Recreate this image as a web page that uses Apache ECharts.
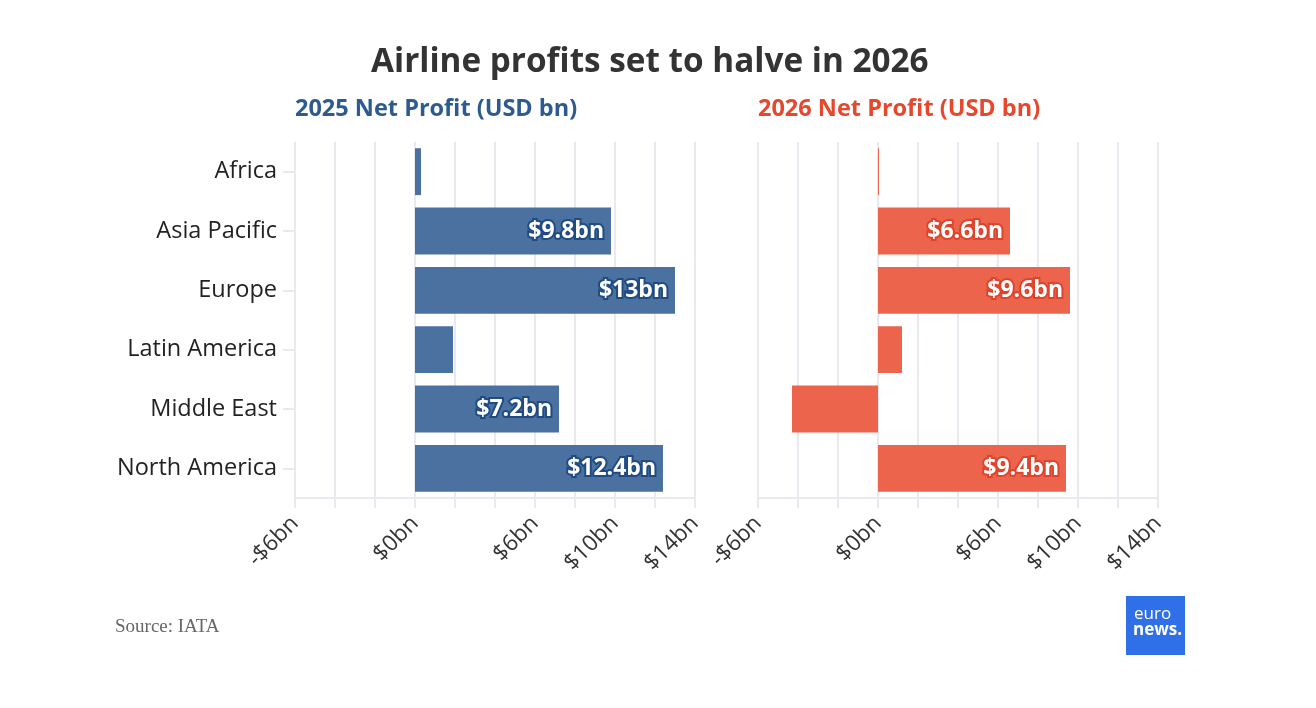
<!DOCTYPE html>
<html>
<head>
<meta charset="utf-8">
<script src="https://cdn.jsdelivr.net/npm/echarts@6/dist/echarts.min.js"></script>
<style>
  html, body { margin: 0; padding: 0; background: #fff; }
  #chart { width: 1316px; height: 708px; }
</style>
</head>
<body>
<div id="chart"></div>
<script>
var regions = ['Africa', 'Asia Pacific', 'Europe', 'Latin America', 'Middle East', 'North America'];
var profit2025 = [0.3, 9.8, 13, 1.9, 7.2, 12.4];
var profit2026 = [0.05, 6.6, 9.6, 1.2, -4.3, 9.4];
var tickLabels = [-6, 0, 6, 10, 14];

var blue = '#4a71a0', red = '#ec644c';
var font = '"Open Sans", "Noto Sans", sans-serif';

function fmtTick(v) {
    return (v < 0 ? '-$' + Math.abs(v) : '$' + v) + 'bn';
}

function xAxisFor(idx) {
    return {
        gridIndex: idx, type: 'value', min: -6, max: 14, interval: 2,
        axisLine: {show: true, lineStyle: {color: '#ebe8ef', width: 2}},
        axisTick: {show: true, length: 10, lineStyle: {color: '#ebe8ef', width: 2}},
        splitLine: {show: true, lineStyle: {color: '#ebe8ef', width: 2}},
        axisLabel: {
            customValues: tickLabels, rotate: 45, margin: 22,
            color: '#333', fontSize: 22.5, fontFamily: font,
            formatter: fmtTick
        }
    };
}

function yAxisFor(idx, showLabels) {
    return {
        gridIndex: idx, type: 'category', data: regions, inverse: true,
        axisLine: {show: false, onZero: false},
        axisTick: {show: showLabels, length: 12, alignWithLabel: true, lineStyle: {color: '#ebe8ef', width: 2}},
        axisLabel: {show: showLabels, color: '#222', fontSize: 23.5, fontFamily: font, margin: 18}
    };
}

function barSeries(idx, values, color, border) {
    return {
        type: 'bar', xAxisIndex: idx, yAxisIndex: idx, data: values,
        barCategoryGap: '21%',
        itemStyle: {color: color},
        label: {
            show: true, position: 'insideRight', distance: 7,
            color: '#fff', fontSize: 23, fontWeight: 'bold', fontFamily: font,
            textBorderColor: border, textBorderWidth: 4,
            formatter: function (p) { return p.value >= 5 ? '$' + p.value + 'bn' : ''; }
        }
    };
}

var myChart = echarts.init(document.getElementById('chart'));
var option = {
    backgroundColor: '#fff',
    animation: false,
    title: [
        {text: 'Airline profits set to halve in 2026', left: 366, top: 41,
            textStyle: {color: '#333', fontSize: 33.3, fontWeight: 'bold', fontFamily: font}},
        {text: '2025 Net Profit (USD bn)', left: 290, top: 92,
            textStyle: {color: '#2e5b8f', fontSize: 23.5, fontWeight: 'bold', fontFamily: font}},
        {text: '2026 Net Profit (USD bn)', left: 753, top: 92,
            textStyle: {color: '#e6472d', fontSize: 23.5, fontWeight: 'bold', fontFamily: font}}
    ],
    grid: [
        {left: 295, top: 142, width: 400, height: 356},
        {left: 758, top: 142, width: 400, height: 356}
    ],
    xAxis: [xAxisFor(0), xAxisFor(1)],
    yAxis: [yAxisFor(0, true), yAxisFor(1, false)],
    series: [
        barSeries(0, profit2025, blue, '#1f4b82'),
        barSeries(1, profit2026, red, '#e0432b')
    ],
    graphic: [
        {type: 'text', left: 115, top: 618,
            style: {text: 'Source: IATA', fill: '#666', fontSize: 19, fontFamily: '"Liberation Serif", serif'}},
        {type: 'rect', left: 1126, top: 596, shape: {width: 59, height: 59}, style: {fill: '#2f6fe8'}},
        {type: 'text', left: 1134, top: 606,
            style: {text: 'euro', fill: '#fff', fontSize: 17, fontFamily: font}},
        {type: 'text', left: 1133, top: 622,
            style: {text: 'news.', fill: '#fff', fontSize: 17, fontWeight: 'bold', fontFamily: font}}
    ]
};
myChart.setOption(option);
</script>
</body>
</html>
